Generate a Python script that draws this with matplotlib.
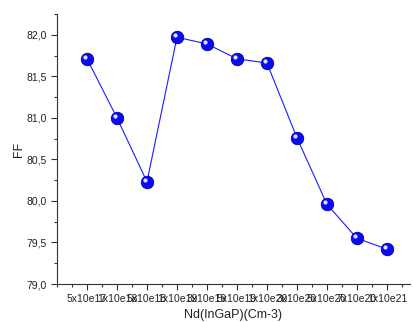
import matplotlib
matplotlib.use("Agg")
import matplotlib.pyplot as plt
import matplotlib.transforms as mtransforms
from matplotlib.ticker import MultipleLocator, FuncFormatter

plt.rcParams['font.family'] = ['Liberation Sans', 'DejaVu Sans']

# doping levels and fill factor
doping = ["5x10e17", "1x10e18", "5x10e18", "1x10e19", "3x10e19", "5x10e19",
          "1x10e20", "3x10e20", "5x10e20", "7x10e20", "1x10e21"]
ff = [81.71, 81.00, 80.23, 81.97, 81.89, 81.71, 81.66, 80.76, 79.96, 79.55, 79.42]
pos = list(range(1, len(doping) + 1))

fig = plt.figure(figsize=(4.14, 3.22), dpi=100)
ax = fig.add_axes([57 / 414, 38 / 322, 353 / 414, 270 / 322])

ax.plot(pos, ff, color='#1a1aff', lw=0.8, zorder=2)
ax.plot(pos, ff, 'o', ms=9, mfc='#0a0af5', mec='#0000a0', mew=0.6, ls='none', zorder=3)
# small highlight to mimic the shaded spheres
hl = mtransforms.offset_copy(ax.transData, fig=fig, x=-1.5, y=1.5, units='points')
ax.plot(pos, ff, 'o', ms=3, mfc='#e0e0ff', mec='none', ls='none', transform=hl, zorder=4)

ax.set_xlim(0, 11.77)
ax.set_ylim(79.0, 82.25)
ax.set_xticks(pos)
ax.set_xticklabels(doping)
ax.xaxis.set_minor_locator(MultipleLocator(0.5))
ax.yaxis.set_major_locator(MultipleLocator(0.5))
ax.yaxis.set_minor_locator(MultipleLocator(0.25))
ax.yaxis.set_major_formatter(FuncFormatter(lambda v, p: f"{v:.1f}".replace('.', ',')))

for s in ['top', 'right']:
    ax.spines[s].set_visible(False)
for s in ['left', 'bottom']:
    ax.spines[s].set_color('#333333')
    ax.spines[s].set_linewidth(0.8)

ax.tick_params(which='major', direction='out', length=4, width=0.8, color='#333333',
               labelsize=7.5, labelcolor='#222222')
ax.tick_params(which='minor', direction='out', length=2.5, width=0.8, color='#333333')
ax.tick_params(axis='x', pad=3)

ax.set_xlabel('Nd(InGaP)(Cm-3)', fontsize=9, labelpad=4, color='#222222')
ax.set_ylabel('FF', fontsize=9, labelpad=1, color='#222222')

fig.savefig('out.png', dpi=100)
